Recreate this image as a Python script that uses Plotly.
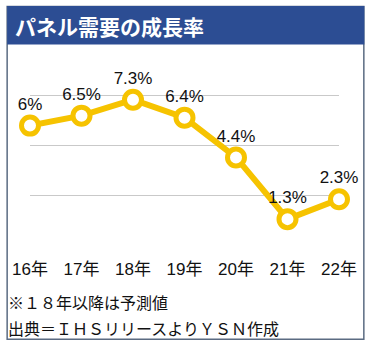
import plotly.graph_objects as go

# Panel demand growth rate, year-on-year (%)
years = ["16年", "17年", "18年", "19年", "20年", "21年", "22年"]
growth = [6.0, 6.5, 7.3, 6.4, 4.4, 1.3, 2.3]
growth_labels = ["6%", "6.5%", "7.3%", "6.4%", "4.4%", "1.3%", "2.3%"]
grid_values = [0, 2.5, 5, 7.5]

title_text = "パネル需要の成長率"
note_lines = ["※１８年以降は予測値", "出典＝ＩＨＳリリースよりＹＳＮ作成"]

W, H = 371, 347
# plot area in pixels
PL, PR, PT, PB = 28, 339, 46.4, 245

def px_x(p):
    return (p - PL) / (PR - PL)

def px_y(p):
    return (PB - p) / (PB - PT)

YELLOW = "#f6c300"
BLUE = "#2c4d93"
BORDER = "#5b6b82"
LATIN = "Liberation Sans, Noto Sans CJK JP, sans-serif"
CJK = "Noto Sans CJK JP, sans-serif"

x_idx = list(range(len(years)))

fig = go.Figure()
fig.add_trace(go.Scatter(
    x=x_idx, y=growth,
    mode="lines+markers+text",
    line=dict(color=YELLOW, width=6),
    marker=dict(size=17, color="white", line=dict(color=YELLOW, width=5)),
    text=growth_labels,
    textposition="top center",
    textfont=dict(family=LATIN, size=17, color="#111111"),
    cliponaxis=False,
    hoverinfo="skip",
))

shapes = [
    # outer frame
    dict(type="rect", xref="paper", yref="paper",
         x0=px_x(5), x1=px_x(364), y0=px_y(339), y1=px_y(7),
         line=dict(color=BORDER, width=1.5), fillcolor="rgba(0,0,0,0)", layer="below"),
    # title bar
    dict(type="rect", xref="paper", yref="paper",
         x0=px_x(5), x1=px_x(364.5), y0=px_y(45), y1=px_y(6.5),
         line=dict(width=0), fillcolor=BLUE, layer="below"),
]

annotations = [
    dict(text=f"<b>{title_text}</b>", xref="paper", yref="paper",
         x=px_x(11), y=px_y(26), xanchor="left", yanchor="middle",
         showarrow=False, font=dict(family=CJK, size=21, color="white")),
]
for i, line in enumerate(note_lines):
    annotations.append(dict(
        text=line, xref="paper", yref="paper",
        x=px_x(4), y=px_y(302 + i * 26), xanchor="left", yanchor="middle",
        showarrow=False, font=dict(family=CJK, size=16, color="#111111")))

fig.update_layout(
    width=W, height=H,
    margin=dict(l=PL, r=W - PR, t=PT, b=H - PB, pad=0),
    paper_bgcolor="white", plot_bgcolor="white",
    showlegend=False,
    shapes=shapes,
    annotations=annotations,
    xaxis=dict(range=[0, len(years) - 1], tickvals=x_idx, ticktext=years,
               showgrid=False, zeroline=False, showline=False, ticks="",
               tickfont=dict(family=LATIN, size=17, color="#111111"),
               ticklabelstandoff=12, fixedrange=True),
    yaxis=dict(range=[0, 10], tickvals=grid_values, showticklabels=False,
               showgrid=True, gridcolor="#c9c9c9", gridwidth=1,
               zeroline=False, showline=False, ticks="", fixedrange=True),
)

fig.write_html("out.html", config={"displayModeBar": False})
